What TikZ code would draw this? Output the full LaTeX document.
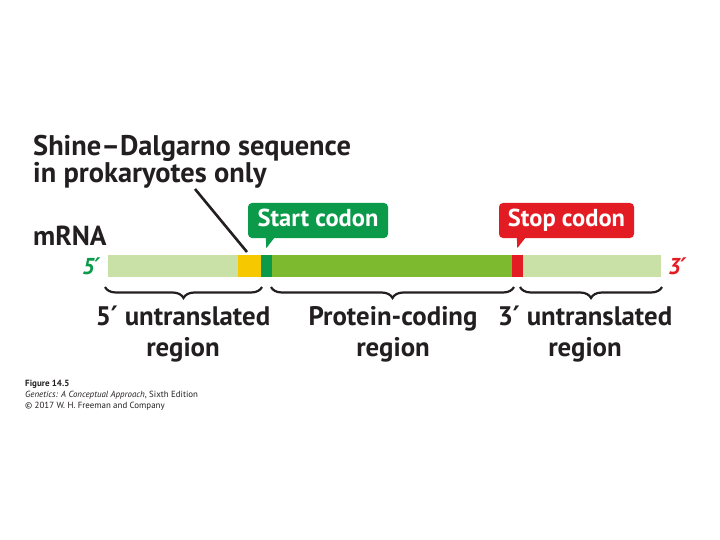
\documentclass[tikz,border=0pt]{standalone}
\usepackage{fontspec}
\setmainfont{PT Sans}
\newfontfamily\pf{DejaVu Sans}
\newcommand{\prm}{{\pf\bfseries ′}}
\usetikzlibrary{decorations.pathreplacing,calc}
\definecolor{lightg}{HTML}{C9E1A6}
\definecolor{yel}{HTML}{F6C800}
\definecolor{dkg}{HTML}{0B9A4A}
\definecolor{medg}{HTML}{7EBA30}
\definecolor{redc}{HTML}{E31B23}
\definecolor{txt}{HTML}{231F20}
\begin{document}
\begin{tikzpicture}[x=1pt,y=-1pt,
  seg/.style={inner sep=0pt,outer sep=0pt,minimum height=22pt,anchor=west},
  callout/.style={rounded corners=4pt,inner sep=0pt,minimum width=140pt,minimum height=35pt,text height=17pt,text depth=5pt,text=white,font=\fontsize{24.5}{26}\selectfont\bfseries},
  bigtxt/.style={text=txt,font=\fontsize{26.8}{31}\selectfont\bfseries,inner sep=0pt},
  bracestyle/.style={draw=txt,line width=2.2pt,decorate,decoration={brace,mirror,amplitude=11pt}},
  captxt/.style={inner sep=0pt,anchor=base west,text=txt}]
\useasboundingbox[fill=white] (0,0) rectangle (720,540);
% bar
\node[seg,fill=lightg,minimum width=130pt] (utr5) at (108,266) {};
\node[seg,fill=yel,minimum width=23pt] (sd) at (238,266) {};
\node[seg,fill=dkg,minimum width=11pt] (start) at (261,266) {};
\node[seg,fill=medg,minimum width=240pt] (cds) at (272,266) {};
\node[seg,fill=redc,minimum width=11pt] (stop) at (512,266) {};
\node[seg,fill=lightg,minimum width=138pt] (utr3) at (523,266) {};
% ends
\node[anchor=base east,inner sep=0pt,text=dkg,font=\fontsize{23}{24}\selectfont\bfseries\itshape] (five) at (101,274) {5{\pf\bfseries\itshape ′}};
\node[anchor=base west,inner sep=0pt,text=redc,font=\fontsize{23}{24}\selectfont\bfseries\itshape] (three) at (668,274) {3{\pf\bfseries\itshape ′}};
% labels
\node[bigtxt,anchor=base west,font=\fontsize{27.5}{30}\selectfont\bfseries] (mrna) at (33,245) {mRNA};
\node[bigtxt,anchor=base west,align=left,font=\fontsize{28.4}{26}\selectfont\bfseries] (sdlab) at (33,183) {Shine–Dalgarno sequence\\in prokaryotes only};
\coordinate (sdend) at (247,252);
\draw[txt,line width=2.6pt] (195,189) -- (sdend);
% callouts
\node[callout,fill=dkg] (startbox) at (318,220.5) {Start codon};
\fill[dkg] ($(startbox.south west)+(18,-1)$) -- ($(startbox.south west)+(27,-1)$) -- ($(startbox.south west)+(18.5,10)$) -- cycle;
\node[callout,fill=redc,minimum width=135pt] (stopbox) at (566.5,220.5) {Stop codon};
\fill[redc] ($(stopbox.south west)+(18,-1)$) -- ($(stopbox.south west)+(27,-1)$) -- ($(stopbox.south west)+(18.5,10)$) -- cycle;
% braces
\draw[bracestyle] (105,287) -- (262,287);
\draw[bracestyle] (271,287) -- (514,287);
\draw[bracestyle] (520,287) -- (662,287);
\node[bigtxt,align=center,anchor=north] (l5) at (183,306) {5\prm{} untranslated\\region};
\node[bigtxt,align=center,anchor=north] (lc) at (393,306) {Protein-coding\\region};
\node[bigtxt,align=center,anchor=north] (l3) at (585,306) {3\prm{} untranslated\\region};
% caption
\node[captxt,font=\fontsize{9}{10}\selectfont\bfseries] (fig) at (25,386) {Figure 14.5};
\node[captxt,font=\fontsize{8.9}{10}\selectfont] (book) at (25,397.5) {\textit{Genetics: A Conceptual Approach}, Sixth Edition};
\node[captxt,font=\fontsize{8.9}{10}\selectfont] (copy) at (25,408) {© 2017 W. H. Freeman and Company};
\end{tikzpicture}
\end{document}
